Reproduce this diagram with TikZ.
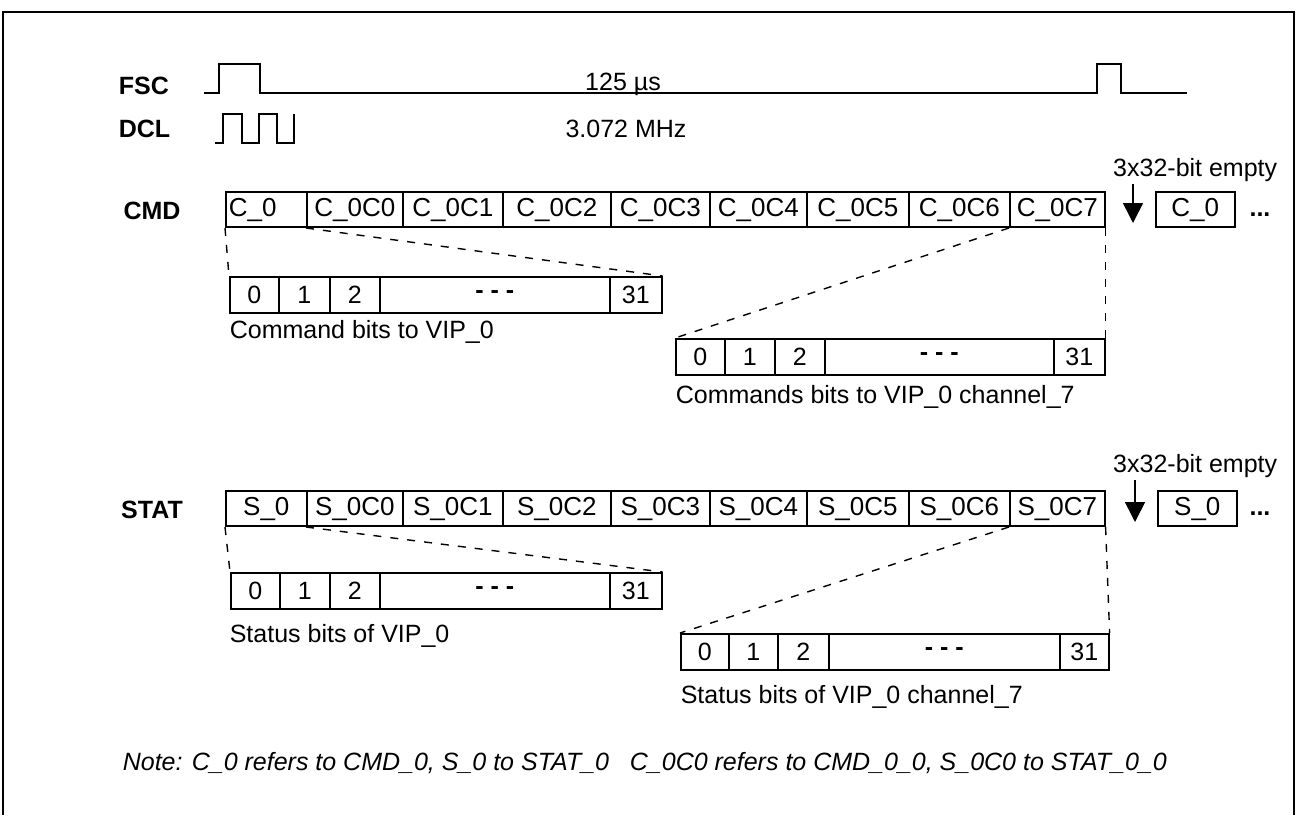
\documentclass[tikz,border=0pt]{standalone}
\usepackage{fontspec}
\setmainfont{Liberation Sans}
\usetikzlibrary{arrows.meta}
\begin{document}
\begin{tikzpicture}[x=1pt,y=-1pt, line width=1.6pt,
  every node/.style={font=\fontsize{25}{30}\selectfont, inner sep=0pt},
  lbl/.style={font=\fontsize{25}{30}\selectfont\bfseries},
  cell/.style={draw, rectangle, minimum height=35pt, anchor=south west, font=\fontsize{26}{30}\selectfont},
  bitbox/.style={draw, rectangle, minimum height=36pt, anchor=north west},
  link/.style={dash pattern=on 8pt off 9pt, line width=1.4pt},
  wave/.style={line width=1.8pt},
  emptyarrow/.style={line width=1.6pt, -{Triangle[length=20pt,width=20pt]}},
  caption/.style={anchor=west}]
\useasboundingbox (0,0) rectangle (1298,815);
% frame
\draw[line width=1.5pt] (3,815) -- (3,12) -- (1294,12) -- (1294,815);

% FSC / DCL
\node[lbl, anchor=west] (fsc) at (118,86) {FSC};
\node[lbl, anchor=west] (dcl) at (118,129) {DCL};
\draw[wave] (204,93) -- (219,93) -- (219,64) -- (260,64) -- (260,93) -- (1097,93) -- (1097,64) -- (1121,64) -- (1121,93) -- (1187,93);
\draw[wave] (215,143) -- (223,143) -- (223,114) -- (242,114) -- (242,143) -- (259,143) -- (259,114) -- (277,114) -- (277,143) -- (294,143) -- (294,114);
\node[anchor=base] (per) at (623,90) {125 µs};
\node (freq) at (626,129) {3.072 MHz};

% CMD row
\node[lbl] (cmdl) at (152,211) {CMD};
\node[cell, minimum width=81pt] (c0) at (225,228) {};
\node[anchor=west, font=\fontsize{26}{30}\selectfont] (c0t) at ([xshift=3pt]c0.west) {C\_0};
\node[cell, minimum width=96pt] (c1) at (306,228) {C\_0C0};
\node[cell, minimum width=100pt] (c2) at (402,228) {C\_0C1};
\node[cell, minimum width=108pt] (c3) at (502,228) {C\_0C2};
\node[cell, minimum width=99pt] (c4) at (610,228) {C\_0C3};
\node[cell, minimum width=97pt] (c5) at (709,228) {C\_0C4};
\node[cell, minimum width=102pt] (c6) at (806,228) {C\_0C5};
\node[cell, minimum width=101pt] (c7) at (908,228) {C\_0C6};
\node[cell, minimum width=95pt] (c8) at (1009,228) {C\_0C7};
\node[cell, minimum width=79pt] (cn) at (1155,228) {C\_0};
\node[anchor=base] (cdots) at (1260,222) {\raisebox{6pt}{\textbf{...}}};
\node[anchor=base east] (cempty) at (1278,176) {3x32-bit empty};
\coordinate (carrowtop) at (1133,184);
\coordinate (carrowtip) at (1133,223);
\draw[emptyarrow] (carrowtop) -- (carrowtip);

% CMD bit boxes
\node[bitbox, minimum width=49pt] (a0) at (229,276) {0};
\node[bitbox, minimum width=51pt] (a1) at (278,276) {1};
\node[bitbox, minimum width=50pt] (a2) at (329,276) {2};
\node[bitbox, minimum width=230pt] (ad) at (379,276) {\textbf{- - -}};
\node[bitbox, minimum width=52pt] (a31) at (609,276) {31};
\node[caption] (acap) at (229,332) {Command bits to VIP\_0};

\node[bitbox, minimum width=49pt] (b0) at (675,338) {0};
\node[bitbox, minimum width=50pt] (b1) at (724,338) {1};
\node[bitbox, minimum width=50pt] (b2) at (774,338) {2};
\node[bitbox, minimum width=229pt] (bd) at (824,338) {\textbf{- - -}};
\node[bitbox, minimum width=51pt] (b31) at (1053,338) {31};
\node[caption] (bcap) at (675,397) {Commands bits to VIP\_0 channel\_7};

\draw[link] (c0.south west) -- (a0.north west);
\draw[link] (c1.south west) -- (a31.north east);
\draw[link] (c8.south west) -- (b0.north west);
\draw[link] (c8.south east) -- (b31.north east);

% STAT row
\node[lbl] (statl) at (152,510) {STAT};
\node[cell, minimum width=81pt] (s0) at (225,527) {S\_0};
\node[cell, minimum width=96pt] (s1) at (306,527) {S\_0C0};
\node[cell, minimum width=100pt] (s2) at (402,527) {S\_0C1};
\node[cell, minimum width=108pt] (s3) at (502,527) {S\_0C2};
\node[cell, minimum width=99pt] (s4) at (610,527) {S\_0C3};
\node[cell, minimum width=97pt] (s5) at (709,527) {S\_0C4};
\node[cell, minimum width=102pt] (s6) at (806,527) {S\_0C5};
\node[cell, minimum width=101pt] (s7) at (908,527) {S\_0C6};
\node[cell, minimum width=95pt] (s8) at (1009,527) {S\_0C7};
\node[cell, minimum width=79pt] (sn) at (1157,527) {S\_0};
\node[anchor=base] (sdots) at (1260,521) {\raisebox{6pt}{\textbf{...}}};
\node[anchor=base east] (sempty) at (1278,472) {3x32-bit empty};
\coordinate (sarrowtop) at (1135,480);
\coordinate (sarrowtip) at (1135,522);
\draw[emptyarrow] (sarrowtop) -- (sarrowtip);

% STAT bit boxes
\node[bitbox, minimum width=49pt] (d0) at (230,572) {0};
\node[bitbox, minimum width=50pt] (d1) at (279,572) {1};
\node[bitbox, minimum width=50pt] (d2) at (329,572) {2};
\node[bitbox, minimum width=230pt] (dd) at (379,572) {\textbf{- - -}};
\node[bitbox, minimum width=52pt] (d31) at (609,572) {31};
\node[caption] (dcap) at (229,636) {Status bits of VIP\_0};

\node[bitbox, minimum width=48pt] (e0) at (680,633) {0};
\node[bitbox, minimum width=49pt] (e1) at (728,633) {1};
\node[bitbox, minimum width=51pt] (e2) at (777,633) {2};
\node[bitbox, minimum width=231pt] (ed) at (828,633) {\textbf{- - -}};
\node[bitbox, minimum width=49pt] (e31) at (1059,633) {31};
\node[caption] (ecap) at (680,697) {Status bits of VIP\_0 channel\_7};

\draw[link] (s0.south west) -- (d0.north west);
\draw[link] (s1.south west) -- (d31.north east);
\draw[link] (s8.south west) -- (e0.north west);
\draw[link] (s8.south east) -- (e31.north east);

% note
\node[caption] (note) at (122,763) {\textit{Note: C\_0 refers to CMD\_0, S\_0 to STAT\_0 \ \ C\_0C0 refers to CMD\_0\_0, S\_0C0 to STAT\_0\_0}};
\end{tikzpicture}
\end{document}
